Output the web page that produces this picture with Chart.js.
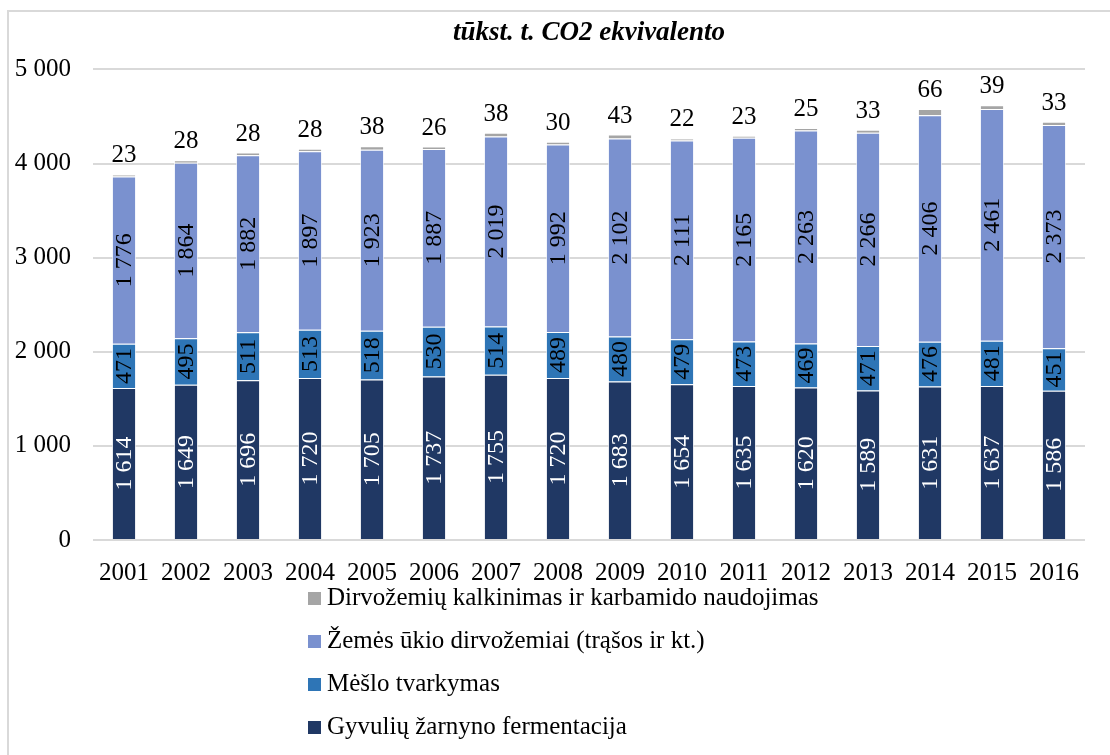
<!DOCTYPE html>
<html>
<head>
<meta charset="utf-8">
<script src="https://cdn.jsdelivr.net/npm/chart.js@4/dist/chart.umd.min.js"></script>
<style>
  html, body { margin: 0; padding: 0; background: #fff; overflow: hidden; }
  #wrap { position: relative; width: 1110px; height: 755px; overflow: hidden; }
  #frame { position: absolute; left: 7px; top: 10px; width: 1200px; height: 900px; border: 2px solid #d9d9d9; box-sizing: border-box; pointer-events: none; }
</style>
</head>
<body>
<div id="wrap">
  <canvas id="myChart" width="1110" height="755"></canvas>
  <div id="frame"></div>
</div>
<script>
/* metai */
const years = ['2001','2002','2003','2004','2005','2006','2007','2008','2009','2010','2011','2012','2013','2014','2015','2016'];

/* emisijos, tūkst. t CO2 ekv. */
const fermentacija = [1614,1649,1696,1720,1705,1737,1755,1720,1683,1654,1635,1620,1589,1631,1637,1586];
const meslas = [471,495,511,513,518,530,514,489,480,479,473,469,471,476,481,451];
const dirvozemiai = [1776,1864,1882,1897,1923,1887,2019,1992,2102,2111,2165,2263,2266,2406,2461,2373];
const kalkinimas = [23,28,28,28,38,26,38,30,43,22,23,25,33,66,39,33];

const yTicks = [0, 1000, 2000, 3000, 4000, 5000];

const FONT = "'Liberation Serif', 'DejaVu Serif', serif";

/* 1614 -> "1 614" */
let fmt = (v) => String(v).replace(/\B(?=(\d{3})+(?!\d))/g, ' ');

/* reikšmės ant stulpelių */
const barLabels = {
  id: 'barLabels',
  afterDatasetsDraw(chart) {
    const ctx = chart.ctx;
    chart.data.datasets.forEach((ds, i) => {
      const meta = chart.getDatasetMeta(i);
      meta.data.forEach((bar, j) => {
        const txt = fmt(ds.data[j]);
        ctx.save();
        if (i < 3) {
          ctx.font = '24px ' + FONT;
          ctx.fillStyle = ds.labelColor;
          ctx.textAlign = 'center';
          ctx.textBaseline = 'middle';
          ctx.translate(bar.x, (bar.y + bar.base) / 2);
          ctx.rotate(-Math.PI / 2);
          ctx.fillText(txt, 0, 1);
        } else {
          ctx.font = '25px ' + FONT;
          ctx.fillStyle = '#000';
          ctx.textAlign = 'center';
          ctx.textBaseline = 'alphabetic';
          ctx.fillText(txt, bar.x, bar.y - 12);
        }
        ctx.restore();
      });
    });
  }
};

/* legenda po grafiku, stulpeliu, atvirkštine tvarka */
const listLegend = {
  id: 'listLegend',
  afterDraw(chart) {
    const ctx = chart.ctx;
    const sets = chart.data.datasets.slice().reverse();
    const top = chart.chartArea.bottom + 58;
    ctx.save();
    ctx.font = '25px ' + FONT;
    ctx.textBaseline = 'middle';
    sets.forEach((ds, k) => {
      const y = top + k * 43;
      ctx.fillStyle = ds.backgroundColor;
      ctx.fillRect(308, y - 6, 13, 13);
      ctx.fillStyle = '#000';
      ctx.fillText(ds.label, 327, y);
    });
    ctx.restore();
  }
};

const ctx = document.getElementById('myChart');

const data = {
  labels: years,
  datasets: [
    { label: 'Gyvulių žarnyno fermentacija', data: fermentacija, backgroundColor: '#203864', labelColor: '#fff' },
    { label: 'Mėšlo tvarkymas', data: meslas, backgroundColor: '#2e75b6', labelColor: '#000' },
    { label: 'Žemės ūkio dirvožemiai (trąšos ir kt.)', data: dirvozemiai, backgroundColor: '#7a91cf', labelColor: '#000' },
    { label: 'Dirvožemių kalkinimas ir karbamido naudojimas', data: kalkinimas, backgroundColor: '#a5a5a5', labelColor: '#000' }
  ]
};
data.datasets.forEach(ds => {
  ds.borderColor = 'rgba(255,255,255,0.7)';
  ds.borderWidth = 1;
  ds.categoryPercentage = 1;
  ds.barPercentage = 0.39;
});

const config = {
  type: 'bar',
  data: data,
  options: {
    responsive: false,
    animation: false,
    layout: { padding: { left: 0, right: 25, top: 0, bottom: 155 } },
    plugins: {
      legend: { display: false },
      tooltip: { enabled: false },
      title: {
        display: true,
        fullSize: false,
        text: 'tūkst. t. CO2 ekvivalento',
        color: '#000',
        font: { family: FONT, size: 27, weight: 'bold', style: 'italic' },
        padding: { top: 17, bottom: 20 }
      }
    },
    scales: {
      x: {
        stacked: true,
        grid: { display: false, drawTicks: false },
        border: { display: false },
        ticks: { color: '#000', font: { family: FONT, size: 25 }, padding: 18, maxRotation: 0 },
        afterFit: (scale) => { scale.height = 60; }
      },
      y: {
        stacked: true,
        min: 0,
        max: 5000,
        afterBuildTicks: (scale) => { scale.ticks = yTicks.map(v => ({ value: v })); },
        grid: { color: '#d9d9d9', lineWidth: 2, drawTicks: false },
        border: { display: false },
        ticks: { color: '#000', font: { family: FONT, size: 25 }, padding: 22, callback: (v) => fmt(v) },
        afterFit: (scale) => { scale.width = 93; }
      }
    }
  },
  plugins: [barLabels, listLegend]
};

const chart = new Chart(ctx, config);
</script>
</body>
</html>
